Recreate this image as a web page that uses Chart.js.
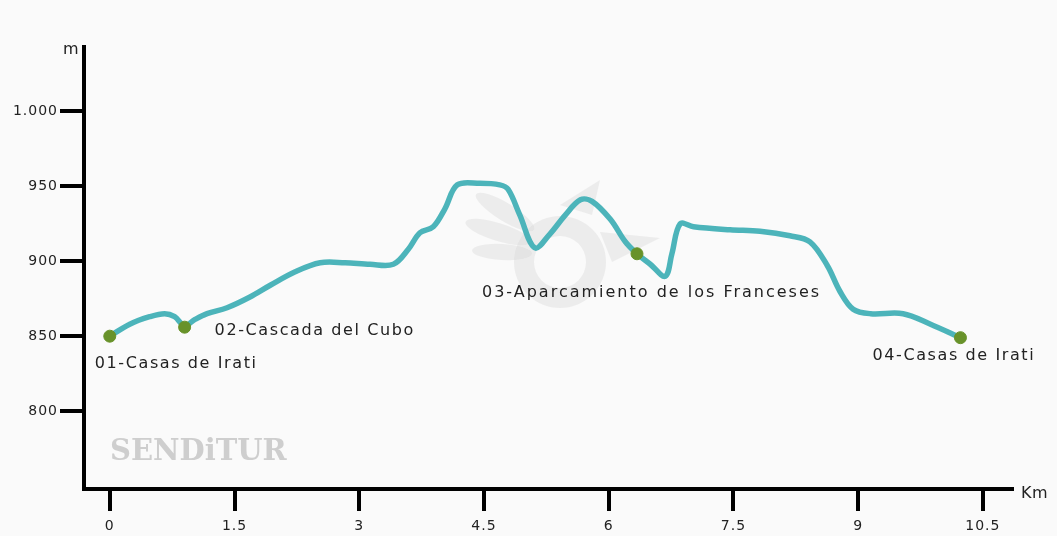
<!DOCTYPE html>
<html lang="es">
<head>
    <meta charset="UTF-8">
    <title>Perfil Casas de Irati</title>
    <script src="https://cdn.jsdelivr.net/npm/chart.js@4.4.0/dist/chart.umd.min.js"></script>
    <style>
        html, body { margin: 0; padding: 0; background: #fafafa; }
        #wrap { width: 1057px; height: 536px; }
    </style>
</head>
<body>
    <div id="wrap"><canvas id="chart" width="1057" height="536"></canvas></div>

    <script>
        // profile: distance (km) and elevation (m)
        const distKm = [0, 0.24, 0.48, 0.66, 0.78, 0.9, 1.02, 1.17, 1.41, 1.68, 1.93, 2.23, 2.53, 2.83,
            3.13, 3.41, 3.59, 3.73, 3.89, 4.03, 4.18, 4.45, 4.69, 4.79, 4.93, 5.11, 5.29, 5.48, 5.66,
            5.8, 6.02, 6.2, 6.34, 6.5, 6.68, 6.76, 6.86, 7.02, 7.46, 7.82, 8.18, 8.42, 8.63, 8.78,
            8.94, 9.15, 9.54, 9.87, 10.23];
        const elevM = [850, 858, 863, 865, 863, 857, 861, 865, 869, 876, 884, 893, 899, 899,
            898, 898, 908, 919, 923, 935, 951, 952, 951, 948, 931, 909, 918, 931, 941,
            940, 928, 913, 905, 898, 890, 905, 925, 923, 921, 920, 917, 913, 897, 880,
            868, 865, 865, 858, 849];

        const waypointKm = [0, 0.9, 6.34, 10.23];
        const waypointM = [850, 856, 905, 849];
        const waypointNames = ['01-Casas de Irati', '02-Cascada del Cubo',
            '03-Aparcamiento de los Franceses', '04-Casas de Irati'];

        const xTicks = [0, 1.5, 3, 4.5, 6, 7.5, 9, 10.5];
        const yTicks = [800, 850, 900, 950, 1000];

        const extras = {
            id: 'extras',
            beforeDraw(chart) {
                chart.ctx.letterSpacing = '1px';
            },
            beforeDatasetsDraw(chart) {
                const c = chart.ctx;
                c.save();
                // watermark text
                c.letterSpacing = '0px';
                c.fillStyle = 'rgba(195,195,195,0.8)';
                c.font = 'bold 29px "DejaVu Serif", serif';
                c.textBaseline = 'middle';
                c.fillText('SENDiTUR', 110, 452);
                // faint bird logo
                c.fillStyle = 'rgba(205,205,205,0.3)';
                c.beginPath();
                c.arc(560, 262, 46, 0, Math.PI * 2);
                c.arc(560, 262, 26, 0, Math.PI * 2, true);
                c.fill();
                const feathers = [[505, 212, 34, 9, 0.55], [498, 232, 34, 9, 0.3], [502, 252, 30, 8, 0.05]];
                feathers.forEach(f => {
                    c.beginPath();
                    c.ellipse(f[0], f[1], f[2], f[3], f[4], 0, Math.PI * 2);
                    c.fill();
                });
                c.beginPath();
                c.moveTo(560, 205); c.lineTo(600, 180); c.lineTo(592, 215); c.closePath();
                c.fill();
                c.beginPath();
                c.moveTo(600, 232); c.lineTo(660, 238); c.lineTo(612, 262); c.closePath();
                c.fill();
                c.restore();
            },
            afterDatasetsDraw(chart) {
                const c = chart.ctx;
                const meta = chart.getDatasetMeta(1);
                // label offsets from each waypoint (left edge, middle)
                const offs = [[-15, 28], [30, 4], [-155, 39], [-88, 18]];
                const spacing = ['1.6px', '1.6px', '2px', '1.6px'];
                c.save();
                c.fillStyle = '#222';
                c.font = '16px "DejaVu Sans", sans-serif';
                c.textBaseline = 'middle';
                meta.data.forEach((pt, i) => {
                    c.letterSpacing = spacing[i];
                    c.fillText(waypointNames[i], pt.x + offs[i][0], pt.y + offs[i][1]);
                });
                // axis units
                c.letterSpacing = '0.5px';
                c.fillText('m', 63, 50);
                c.fillText('Km', 1021, 494);
                c.restore();
            }
        };

        const ctx = document.getElementById('chart').getContext('2d');
        const myChart = new Chart(ctx, {
            data: {
                datasets: [
                    {
                        type: 'line',
                        data: distKm.map((d, i) => ({ x: d, y: elevM[i] })),
                        borderColor: 'rgb(76,180,186)',
                        borderWidth: 5.5,
                        pointRadius: 0,
                        tension: 0.35,
                        fill: false,
                        order: 2
                    },
                    {
                        type: 'scatter',
                        data: waypointKm.map((d, i) => ({ x: d, y: waypointM[i] })),
                        backgroundColor: 'rgb(104,146,42)',
                        borderColor: 'rgb(104,146,42)',
                        pointRadius: 6,
                        order: 1
                    }
                ]
            },
            options: {
                responsive: false,
                animation: false,
                layout: { padding: { left: 0, right: 45, top: 47, bottom: 0 } },
                plugins: { legend: { display: false }, tooltip: { enabled: false } },
                scales: {
                    x: {
                        type: 'linear',
                        min: -0.31,
                        max: 10.85,
                        afterBuildTicks: s => { s.ticks = xTicks.map(v => ({ value: v })); },
                        afterFit: s => { s.height = 47; },
                        border: { display: true, color: '#000', width: 4 },
                        grid: { drawOnChartArea: false, color: '#000', tickLength: 22, lineWidth: 4 },
                        ticks: {
                            color: '#222',
                            font: { family: 'DejaVu Sans', size: 14 },
                            padding: 7,
                            maxRotation: 0,
                            callback: v => String(v)
                        }
                    },
                    y: {
                        type: 'linear',
                        min: 748,
                        max: 1043,
                        afterBuildTicks: s => { s.ticks = yTicks.map(v => ({ value: v })); },
                        afterFit: s => { s.width = 84; },
                        border: { display: true, color: '#000', width: 4 },
                        grid: { drawOnChartArea: false, color: '#000', tickLength: 24, lineWidth: 4 },
                        ticks: {
                            color: '#222',
                            font: { family: 'DejaVu Sans', size: 14 },
                            padding: 2,
                            callback: v => v >= 1000 ? '1.000' : String(v)
                        }
                    }
                }
            },
            plugins: [extras]
        });
    </script>
</body>
</html>
